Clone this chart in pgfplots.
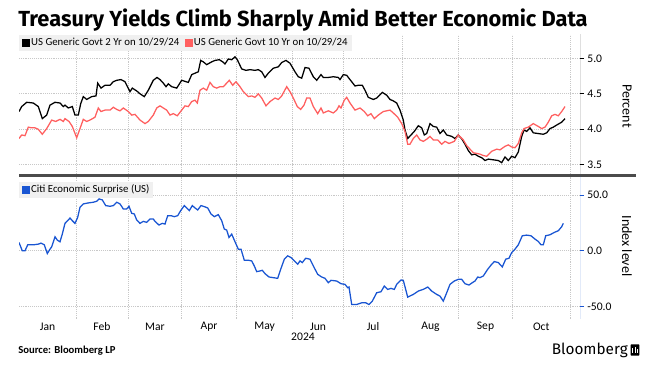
\documentclass[border=0pt]{standalone}
\usepackage{fontspec}
\setmainfont{Carlito}
\newfontfamily\titlefont{Fira Sans}
\usepackage{pgfplots}
\pgfplotsset{compat=1.18}
\definecolor{tyred}{RGB}{255,95,95}
\definecolor{csblue}{RGB}{25,85,210}
\definecolor{gridgray}{RGB}{200,200,200}
\definecolor{sepgray}{RGB}{75,75,75}
\definecolor{leggray}{RGB}{240,240,240}
\pgfplotsset{
  mybase/.style={
    scale only axis, width=420.75pt, xmin=19, xmax=580,
    axis line style={draw=none},
    xtick={47.5,102,155,209,264.7,318,373,430.5,485.5,541.3},
    xticklabels={Jan,Feb,Mar,Apr,May,Jun,Jul,Aug,Sep,Oct},
    x tick style={draw=none},
    extra x ticks={76,128.3,181.7,236.7,292.7,343.3,402.7,458.3,512.7,570},
    extra x tick labels={},
    extra x tick style={grid=major, major tick length=0pt},
    ymajorgrids,
    major grid style={densely dotted, gridgray, line width=0.6pt},
    ytick pos=right, yticklabel pos=right, tick align=outside,
    major tick length=3pt,
    /pgf/number format/.cd, fixed, fixed zerofill, precision=1, assume math mode=true, /pgfplots/.cd,
    tick label style={font=\fontsize{8.7}{10}\selectfont},
    yticklabel style={xshift=-1pt},
    legend style={at={(0,1)}, anchor=north west, fill=leggray, draw=none,
      font=\fontsize{8.1}{10}\selectfont, inner xsep=2pt, inner ysep=1.4pt,
      nodes={inner sep=1pt}, legend columns=-1,
      /tikz/every even column/.append style={column sep=3pt}},
    legend image code/.code={\fill[##1] (0pt,-2.5pt) rectangle (5pt,2.5pt);},
  }
}
\begin{document}
\begin{tikzpicture}
\path[use as bounding box] (0,0) rectangle (485.25pt,-275.25pt);
% title
\node[anchor=west, inner sep=0pt] at (13.5pt,-15pt) {\resizebox{427pt}{!}{\titlefont\bfseries\fontsize{16}{18}\selectfont Treasury Yields Climb Sharply Amid Better Economic Data}};
% top panel
\begin{axis}[mybase, at={(14.25pt,-26.25pt)}, anchor=north west, height=105pt,
  ymin=3.356, ymax=5.328, ytick={3.5,4,4.5,5}, xticklabels={},
  y tick style={black, line width=0.6pt}]
\addplot[color=black, line width=0.95pt] coordinates {
(19,4.25)(21.7,4.32)(26.7,4.38)(33.3,4.37)(38.3,4.32)(42.3,4.15)(46.7,4.20)(50,4.34)(55,4.38)(60,4.37)
(63.3,4.32)(65,4.34)(68.3,4.30)(72.3,4.32)(75,4.20)(78.3,4.20)(80.7,4.36)(83.3,4.46)(86.7,4.42)(91.7,4.46)
(96,4.47)(97.7,4.65)(101,4.58)(105,4.62)(110,4.62)(113.3,4.67)(116.7,4.69)(121,4.70)(125,4.67)(130,4.53)
(132.3,4.58)(136.7,4.54)(140,4.50)(144.3,4.46)(148.3,4.55)(153.3,4.69)(157,4.73)(160,4.70)(163.3,4.65)(166,4.60)
(168.3,4.64)(171.7,4.60)(176.7,4.58)(181.7,4.69)(188.3,4.66)(191.7,4.77)(195,4.79)(198.3,4.81)(200.7,4.97)(203.3,4.95)
(206.7,4.91)(211.7,4.95)(215,4.97)(219.3,4.98)(222.7,4.95)(225,4.92)(228.3,4.99)(231.7,4.98)(235,5.02)(237.3,4.98)
(241.7,4.85)(246,4.83)(250,4.84)(255,4.83)(258.3,4.84)(261.7,4.81)(265,4.73)(268.3,4.79)(273.3,4.86)(278.3,4.88)
(281.7,4.94)(286,4.97)(290,4.93)(295,4.81)(298.3,4.74)(301.7,4.72)(305,4.87)(309,4.86)(313.3,4.74)(316.7,4.69)
(321,4.77)(323.3,4.73)(328.3,4.73)(333.3,4.74)(338.3,4.73)(340,4.70)(343.3,4.77)(346.7,4.76)(350,4.70)(355,4.61)
(358.3,4.62)(362.3,4.62)(365,4.55)(368.3,4.45)(373.3,4.42)(376.7,4.44)(382.3,4.52)(386.7,4.48)(390,4.42)(393.3,4.40)
(396.7,4.37)(400,4.27)(403.3,4.13)(405,3.99)(407.7,3.87)(411,3.92)(414.3,3.97)(418.3,4.05)(421.7,4.02)(424.3,3.92)
(426.7,3.94)(430,4.08)(433.3,4.04)(436.7,4.03)(440,3.94)(443.3,3.99)(446.7,3.92)(451.7,3.90)(455,3.87)(458.3,3.92)
(462,3.86)(465,3.79)(468.3,3.70)(471.7,3.64)(475,3.65)(478.3,3.62)(481.7,3.60)(485,3.56)(488.3,3.58)(493.3,3.57)
(498.3,3.56)(501.7,3.53)(505,3.61)(508.3,3.56)(511.7,3.62)(515,3.60)(518.3,3.68)(521.7,3.90)(524,3.99)(526.7,3.97)
(530,4.02)(533.3,3.95)(538,3.94)(543.3,3.93)(546.7,3.95)(550,4.01)(553.3,4.03)(556.7,4.06)(561.7,4.10)(565,4.15)
};
\addlegendentry{US Generic Govt 2 Yr on 10/29/24}
\addplot[color=tyred, line width=0.95pt] coordinates {
(19,3.87)(21.7,3.92)(25,3.91)(28.3,4.03)(31.7,4.02)(35,4.02)(38.3,4.00)(42.3,3.93)(46.7,4.01)(51.7,4.13)
(55.7,4.11)(60,4.14)(63.3,4.11)(65,4.15)(69,4.11)(72.3,4.04)(76.7,3.88)(80,4.01)(83.3,4.14)(86.7,4.11)
(90,4.13)(95,4.17)(98.3,4.30)(101,4.25)(105,4.27)(110,4.27)(113.3,4.31)(116.7,4.28)(120,4.26)(123.3,4.30)
(128.3,4.25)(131.7,4.20)(135,4.21)(140,4.13)(145,4.08)(148.3,4.11)(153.3,4.20)(156.7,4.30)(160,4.33)(163.3,4.30)
(166.7,4.27)(170,4.20)(173.3,4.22)(177.3,4.19)(181.7,4.27)(185,4.33)(188.3,4.32)(191.7,4.39)(195,4.41)(197.3,4.37)
(200,4.55)(203.3,4.58)(206.7,4.55)(210,4.66)(213.3,4.60)(216.7,4.58)(220,4.60)(223.3,4.60)(226.7,4.65)(229.3,4.69)
(232.7,4.62)(236,4.67)(240,4.60)(243.3,4.53)(248.3,4.46)(251.7,4.47)(255,4.45)(258.3,4.50)(261.7,4.44)(266,4.33)
(270,4.39)(275,4.44)(278.3,4.42)(281.7,4.47)(286.7,4.60)(290,4.53)(293.3,4.44)(297.3,4.32)(300.7,4.28)(304,4.34)
(306.7,4.44)(310,4.44)(313.3,4.32)(317.7,4.22)(321,4.30)(323.3,4.23)(328.3,4.26)(333.3,4.23)(336.7,4.27)(339,4.33)
(341,4.30)(344.3,4.41)(346.7,4.45)(350,4.37)(355,4.27)(360,4.30)(364.3,4.25)(367.7,4.19)(371,4.22)(374.3,4.15)
(378.3,4.20)(383.3,4.25)(390,4.27)(393.3,4.23)(397.7,4.17)(401.7,4.08)(405,3.97)(407.7,3.79)(410,3.79)(413.3,3.87)
(416.7,3.92)(420,3.85)(423.3,3.83)(426.7,3.86)(430,3.90)(433.3,3.85)(437.7,3.85)(441.7,3.79)(445,3.83)(449,3.80)
(454.3,3.83)(458.3,3.92)(463.3,3.85)(466.7,3.77)(470,3.72)(473.3,3.67)(476.7,3.66)(480,3.65)(483.3,3.63)(486.7,3.62)
(491.7,3.69)(496.7,3.72)(500,3.71)(505,3.76)(508.3,3.78)(511.7,3.75)(515,3.74)(518.3,3.80)(521.7,3.95)(524,4.01)
(528.3,4.03)(533.3,4.08)(538.3,4.04)(541.7,4.01)(545,4.03)(548.3,4.10)(551.7,4.19)(555,4.21)(558.3,4.19)(561.7,4.25)
(565,4.32)
};
\addlegendentry{US Generic Govt 10 Yr on 10/29/24}
\draw[black, line width=0.7pt] (rel axis cs:1,0) -- (rel axis cs:1,1.02);
\end{axis}
% separator
\draw[sepgray, line width=2.2pt] (14.25pt,-131.6pt) -- (477pt,-131.6pt);
% bottom panel
\begin{axis}[mybase, at={(14.25pt,-132pt)}, anchor=north west, height=107.25pt,
  ymin=-61, ymax=67, ytick={-50,0,50},
  y tick style={csblue, line width=0.6pt},
  xticklabel style={anchor=center, yshift=-3pt},
  legend style={yshift=-4.2pt}]
\addplot[color=csblue, line width=0.95pt] coordinates {
(19,7.5)(22.3,0)(25,0)(27.7,5.4)(33.3,5.4)(38.3,6)(41,6.9)(44.3,5.4)(47.3,-2.4)(50,1.5)
(51.7,3.6)(55,12.6)(57.3,9.6)(60,8.1)(62.3,15)(65,24.6)(68.3,27.6)(70,29.4)(72.3,27)(75,24.6)
(77.7,30)(80,39)(83.3,42)(88.3,42.9)(93.3,43.5)(96.7,44.4)(99,46.5)(102.3,45.6)(105.7,40.5)(110,39.9)
(113.3,40.5)(116.7,43.5)(120,42)(123.3,37.5)(126.7,37.5)(129,39.9)(131.7,33.6)(134.3,33)(136.7,27.6)(140,24.6)
(143.3,26.4)(146.7,25.5)(150,28.5)(153.3,28.5)(155,26.4)(159,23.1)(162.3,24.6)(165,24)(167.7,31.5)(171,31.5)
(174.3,30.6)(177.7,31.5)(180.7,36)(184.3,40.5)(187.7,37.5)(189.3,36)(192.3,40.5)(195,38.4)(197.7,36.6)(201,40.5)
(204.3,39.6)(207.7,38.4)(211,33)(214.3,30.6)(218.3,32.4)(221.7,27)(224.3,19.5)(226.7,18.6)(229,12)(231.7,15)
(234.3,9.6)(238.3,1.5)(241,1.5)(244.3,-8.4)(248.3,-8.4)(251.7,-9)(254.3,-13.5)(256.7,-18.6)(260,-18)(262.3,-17.4)
(265,-20.4)(269,-23.4)(273.3,-24)(277.7,-24.6)(280.7,-16.5)(284.3,-7.5)(287.7,-4.5)(291,-6)(294.3,-9)(297.7,-12)
(300,-9)(302.3,-10.5)(305.7,-6.6)(310,-7.5)(313.3,-13.5)(317.7,-21)(321.7,-23.4)(325,-24.6)(328.3,-28.5)(331,-26.4)
(336.7,-27)(341,-29.4)(345,-30)(347.7,-33)(349,-32.4)(351.7,-48)(356.7,-48)(361.7,-46.5)(365.7,-46.5)(369,-48)
(372.3,-45)(376.7,-37.5)(381,-36.6)(384.3,-31.5)(387.7,-34.5)(391,-33.6)(394.3,-34.5)(396.7,-30)(401,-26.1)(403.3,-26.4)
(407.7,-41.4)(413.3,-39)(418.3,-36)(423.3,-34.5)(427.7,-32.4)(431.7,-36)(436.7,-39)(440,-40.5)(443.3,-45)(446.7,-37.5)
(450,-30)(454.3,-27)(458.3,-25.5)(461.7,-25.5)(465,-29.4)(469,-30.6)(472.3,-28.5)(475,-27)(477.7,-23.4)(480,-24)
(483.3,-22.5)(487.7,-16.5)(491.7,-12)(494.3,-9.6)(498.3,-10.5)(502.3,-14.4)(505.7,-7.5)(509,-6.6)(511.7,-1.5)(515,1.5)
(518.3,5.4)(522.3,13.5)(526.7,14.1)(531,13.5)(535,10.5)(538.3,8.4)(541,5.4)(543.3,5.4)(545.7,13.5)(550,14.4)
(554.3,16.5)(558.3,18)(561.7,21.6)(563.3,24.6)
};
\addlegendentry{Citi Economic Surprise (US)}
\draw[csblue, line width=0.7pt] (rel axis cs:1,0) -- (rel axis cs:1,1);
\end{axis}
% axis titles
\node[rotate=-90, font=\fontsize{10.5}{12}\selectfont] at (470.25pt,-79.5pt) {Percent};
\node[rotate=-90, font=\fontsize{10.5}{12}\selectfont] at (470.25pt,-184.5pt) {Index level};
\node[font=\fontsize{8.7}{10}\selectfont] at (227.25pt,-252.75pt) {2024};
\node[anchor=west, inner sep=0pt, font=\bfseries\fontsize{8}{10}\selectfont] at (13.5pt,-263.25pt) {Source: Bloomberg LP};
\node[anchor=east, inner sep=0pt, font=\titlefont\fontsize{11.5}{13}\selectfont] at (471pt,-262.5pt) {Bloomberg};
\fill[black, rounded corners=0.6pt] (473pt,-266.8pt) rectangle (479.5pt,-258.2pt);
\fill[white] (474.3pt,-265pt) rectangle (475pt,-261pt);
\fill[white] (475.9pt,-265pt) rectangle (476.6pt,-260pt);
\fill[white] (477.5pt,-265pt) rectangle (478.2pt,-262pt);
\end{tikzpicture}
\end{document}
